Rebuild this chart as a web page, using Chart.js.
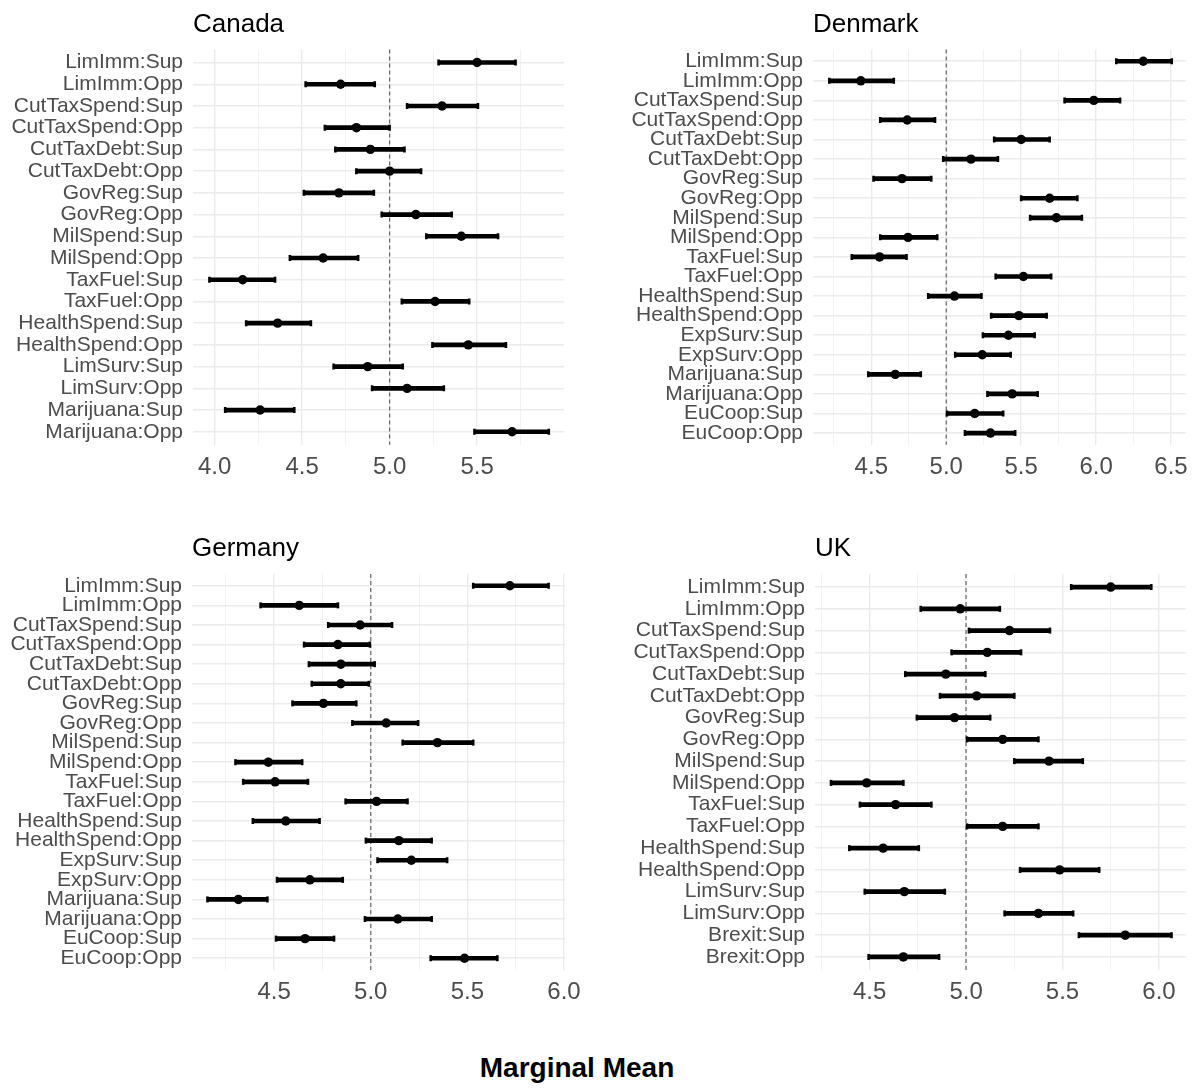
<!DOCTYPE html>
<html>
<head>
<meta charset="utf-8">
<title>Marginal Mean</title>
<script src="https://cdn.jsdelivr.net/npm/chart.js@4.4.1/dist/chart.umd.min.js"></script>
<style>
  body { margin: 0; background: #fff; }
  #page { position: relative; width: 1199px; height: 1088px; overflow: hidden; background: #fff;
          font-family: "Liberation Sans", Arial, sans-serif; }
  .panel { position: absolute; }
  #xlab { position: absolute; left: 0; width: 1154px; top: 1054px; text-align: center;
          font-weight: bold; font-size: 28px; line-height: 28px; color: #000; }
</style>
</head>
<body>
<div id="page">
  <div class="panel" style="left:0;top:0;width:600px;height:480px"><canvas id="canadaChart"></canvas></div>
  <div class="panel" style="left:600px;top:0;width:599px;height:480px"><canvas id="denmarkChart"></canvas></div>
  <div class="panel" style="left:0;top:500px;width:600px;height:505px"><canvas id="germanyChart"></canvas></div>
  <div class="panel" style="left:600px;top:500px;width:599px;height:505px"><canvas id="ukChart"></canvas></div>
  <div id="xlab">Marginal Mean</div>
</div>

<script>
// attribute levels, top to bottom
let canadaLabels = ["LimImm:Sup", "LimImm:Opp", "CutTaxSpend:Sup", "CutTaxSpend:Opp", "CutTaxDebt:Sup",
  "CutTaxDebt:Opp", "GovReg:Sup", "GovReg:Opp", "MilSpend:Sup", "MilSpend:Opp", "TaxFuel:Sup",
  "TaxFuel:Opp", "HealthSpend:Sup", "HealthSpend:Opp", "LimSurv:Sup", "LimSurv:Opp",
  "Marijuana:Sup", "Marijuana:Opp"];
let canadaMean = [5.50, 4.72, 5.30, 4.81, 4.89, 5.00, 4.71, 5.15, 5.41, 4.62, 4.16, 5.26, 4.36, 5.45, 4.875, 5.10, 4.26, 5.70];
let canadaLow = [5.28, 4.52, 5.10, 4.63, 4.69, 4.81, 4.51, 4.955, 5.21, 4.43, 3.97, 5.07, 4.18, 5.245, 4.68, 4.90, 4.06, 5.485];
let canadaHigh = [5.72, 4.915, 5.505, 5.00, 5.085, 5.18, 4.91, 5.355, 5.62, 4.82, 4.345, 5.455, 4.55, 5.665, 5.075, 5.31, 4.455, 5.91];

let euLabels = ["LimImm:Sup", "LimImm:Opp", "CutTaxSpend:Sup", "CutTaxSpend:Opp", "CutTaxDebt:Sup",
  "CutTaxDebt:Opp", "GovReg:Sup", "GovReg:Opp", "MilSpend:Sup", "MilSpend:Opp", "TaxFuel:Sup",
  "TaxFuel:Opp", "HealthSpend:Sup", "HealthSpend:Opp", "ExpSurv:Sup", "ExpSurv:Opp",
  "Marijuana:Sup", "Marijuana:Opp", "EuCoop:Sup", "EuCoop:Opp"];

let denmarkMean = [6.315, 4.43, 5.985, 4.74, 5.50, 5.165, 4.705, 5.69, 5.735, 4.745, 4.555, 5.515, 5.055, 5.485, 5.415, 5.24, 4.66, 5.44, 5.19, 5.295];
let denmarkLow = [6.135, 4.22, 5.79, 4.56, 5.32, 4.98, 4.515, 5.50, 5.56, 4.56, 4.37, 5.33, 4.88, 5.30, 5.245, 5.06, 4.48, 5.275, 5.005, 5.125];
let denmarkHigh = [6.505, 4.65, 6.16, 4.925, 5.69, 5.345, 4.90, 5.875, 5.905, 4.94, 4.735, 5.70, 5.235, 5.67, 5.59, 5.43, 4.83, 5.61, 5.38, 5.46];

let germanyMean = [5.72, 4.63, 4.945, 4.83, 4.845, 4.845, 4.755, 5.08, 5.345, 4.47, 4.505, 5.03, 4.56, 5.145, 5.21, 4.685, 4.315, 5.14, 4.66, 5.485];
let germanyLow = [5.53, 4.43, 4.78, 4.655, 4.68, 4.695, 4.595, 4.905, 5.165, 4.30, 4.34, 4.87, 4.39, 4.975, 5.035, 4.515, 4.155, 4.97, 4.51, 5.31];
let germanyHigh = [5.92, 4.83, 5.11, 4.995, 5.02, 4.99, 4.925, 5.245, 5.53, 4.645, 4.675, 5.19, 4.735, 5.315, 5.395, 4.855, 4.465, 5.315, 4.81, 5.655];

let ukLabels = ["LimImm:Sup", "LimImm:Opp", "CutTaxSpend:Sup", "CutTaxSpend:Opp", "CutTaxDebt:Sup",
  "CutTaxDebt:Opp", "GovReg:Sup", "GovReg:Opp", "MilSpend:Sup", "MilSpend:Opp", "TaxFuel:Sup",
  "TaxFuel:Opp", "HealthSpend:Sup", "HealthSpend:Opp", "LimSurv:Sup", "LimSurv:Opp",
  "Brexit:Sup", "Brexit:Opp"];
let ukMean = [5.75, 4.97, 5.225, 5.11, 4.895, 5.055, 4.94, 5.19, 5.43, 4.485, 4.635, 5.19, 4.57, 5.485, 4.68, 5.375, 5.825, 4.675];
let ukLow = [5.545, 4.765, 5.015, 4.925, 4.685, 4.865, 4.745, 5.005, 5.25, 4.30, 4.45, 5.005, 4.395, 5.28, 4.475, 5.20, 5.585, 4.495];
let ukHigh = [5.96, 5.175, 5.435, 5.285, 5.10, 5.25, 5.125, 5.375, 5.605, 4.675, 4.82, 5.375, 4.755, 5.69, 4.89, 5.555, 6.065, 4.86];

Chart.defaults.font.family = '"Liberation Sans", Arial, sans-serif';
Chart.defaults.animation = false;

// panel title at the left edge of the plot area
let panelTitle = {
  id: "panelTitle",
  afterDraw(chart, args, opts) {
    let c = chart.ctx;
    c.save();
    c.font = '26px "Liberation Sans", Arial, sans-serif';
    c.fillStyle = "#000";
    c.textAlign = "left";
    c.textBaseline = "alphabetic";
    c.fillText(opts.text, chart.chartArea.left, chart.chartArea.top - 18);
    c.restore();
  }
};

// dashed reference line at 5
let refLine = {
  id: "refLine",
  beforeDatasetsDraw(chart) {
    let c = chart.ctx;
    let x = chart.scales.x.getPixelForValue(5);
    c.save();
    c.strokeStyle = "#666666";
    c.lineWidth = 1.2;
    c.setLineDash([4, 3]);
    c.beginPath();
    c.moveTo(x, chart.chartArea.top);
    c.lineTo(x, chart.chartArea.bottom);
    c.stroke();
    c.restore();
  }
};

function isMajor(v) {
  return Math.abs(v * 2 - Math.round(v * 2)) < 1e-6;
}

function makePanel(id, title, labels, mean, low, high, xMin, xMax, box) {
  let ctx = document.getElementById(id).getContext("2d");
  let n = labels.length;

  let points = mean.map((v, i) => ({ x: v, y: i }));
  let lowCaps = low.map((v, i) => ({ x: v, y: i }));
  let highCaps = high.map((v, i) => ({ x: v, y: i }));
  let ranges = low.map((v, i) => ({ y: i, x: [v, high[i]] }));

  return new Chart(ctx, {
    type: "bar",
    data: {
      datasets: [
        {
          type: "line",
          data: points,
          showLine: false,
          pointRadius: 4.7,
          pointBackgroundColor: "#000",
          pointBorderWidth: 0,
        },
        {
          type: "line",
          data: lowCaps.concat(highCaps),
          showLine: false,
          pointStyle: "line",
          pointRotation: 90,
          pointRadius: 3,
          pointBorderWidth: 2.6,
          pointBorderColor: "#000",
        },
        {
          data: ranges,
          backgroundColor: "#000",
          barThickness: 4,
          borderWidth: 0,
        },
      ],
    },
    options: {
      indexAxis: "y",
      responsive: true,
      maintainAspectRatio: false,
      devicePixelRatio: 1,
      layout: { padding: { left: 0, right: box.right, top: box.top, bottom: 0 } },
      plugins: {
        legend: { display: false },
        tooltip: { enabled: false },
        panelTitle: { text: title },
      },
      scales: {
        x: {
          type: "linear",
          min: xMin,
          max: xMax,
          offset: false,
          border: { display: false },
          grid: {
            drawTicks: false,
            color: (c) => (c.tick && isMajor(c.tick.value) ? "#ebebeb" : "#f2f2f2"),
            lineWidth: (c) => (c.tick && isMajor(c.tick.value) ? 1.4 : 1),
          },
          ticks: {
            stepSize: 0.25,
            includeBounds: false,
            autoSkip: false,
            maxRotation: 0,
            padding: 8,
            color: "#4d4d4d",
            font: { size: 24 },
            callback: (v) => (isMajor(v) ? Number(v).toFixed(1) : ""),
          },
          afterFit: (scale) => {
            scale.height = box.axisHeight;
            scale.paddingLeft = 0;
            scale.paddingRight = 0;
          },
        },
        y: {
          type: "linear",
          reverse: true,
          min: -0.6,
          max: n - 0.4,
          offset: false,
          border: { display: false },
          grid: { offset: false, drawTicks: false, color: "#ebebeb", lineWidth: 1.5 },
          ticks: {
            stepSize: 1,
            includeBounds: false,
            autoSkip: false,
            padding: 10,
            color: "#4d4d4d",
            font: { size: 21 },
            callback: (v) => labels[v] || "",
          },
          afterFit: (scale) => {
            scale.width = box.left;
            scale.paddingTop = 0;
            scale.paddingBottom = 0;
          },
        },
      },
    },
    plugins: [panelTitle, refLine],
  });
}

let canadaChart = makePanel("canadaChart", "Canada", canadaLabels, canadaMean, canadaLow, canadaHigh,
  3.876, 5.997, { left: 193, right: 36, top: 49.5, axisHeight: 35.2 });
let denmarkChart = makePanel("denmarkChart", "Denmark", euLabels, denmarkMean, denmarkLow, denmarkHigh,
  4.111, 6.60, { left: 213, right: 13, top: 49.5, axisHeight: 35.2 });
let germanyChart = makePanel("germanyChart", "Germany", euLabels, germanyMean, germanyLow, germanyHigh,
  4.075, 6.005, { left: 192, right: 35, top: 74, axisHeight: 35 });
let ukChart = makePanel("ukChart", "UK", ukLabels, ukMean, ukLow, ukHigh,
  4.217, 6.14, { left: 215, right: 13, top: 74, axisHeight: 35 });
</script>
</body>
</html>
